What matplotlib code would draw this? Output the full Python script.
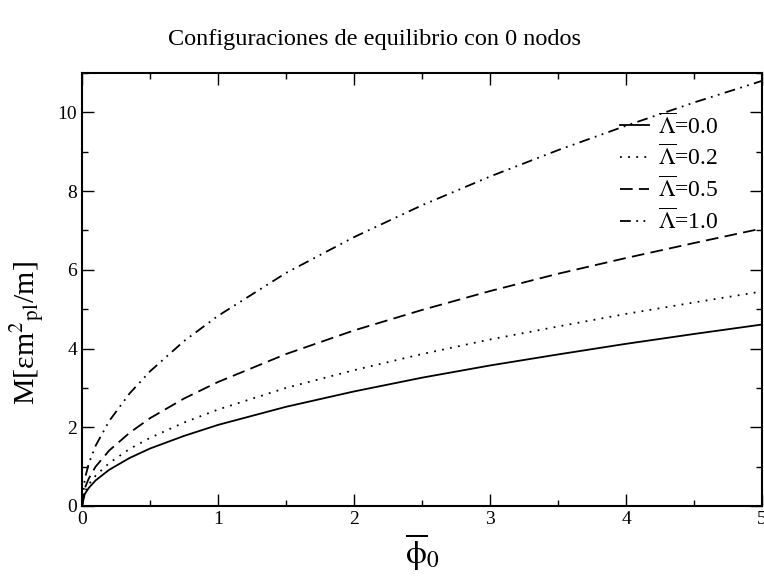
import matplotlib
matplotlib.use('Agg')
import matplotlib.pyplot as plt
from matplotlib.ticker import MultipleLocator

plt.rcParams['font.family'] = ['Liberation Serif', 'DejaVu Serif']
plt.rcParams['mathtext.fontset'] = 'stix'

# campo central phi0 (barra) y masa total para cada Lambda
phi0 = [0, 0.02, 0.05, 0.1, 0.2, 0.35, 0.5, 0.75, 1, 1.5, 2, 2.5, 3, 3.5, 4, 4.5, 5]
m_lam00 = [0, 0.30, 0.46, 0.65, 0.92, 1.22, 1.46, 1.78, 2.06, 2.52, 2.91, 3.26, 3.57, 3.85, 4.12, 4.37, 4.61]
m_lam02 = [0, 0.35, 0.55, 0.77, 1.09, 1.45, 1.73, 2.12, 2.45, 3.00, 3.45, 3.86, 4.23, 4.56, 4.88, 5.17, 5.45]
m_lam05 = [0, 0.45, 0.70, 1.00, 1.41, 1.86, 2.23, 2.73, 3.15, 3.86, 4.46, 4.98, 5.46, 5.90, 6.30, 6.68, 7.05]
m_lam10 = [0, 0.68, 1.08, 1.53, 2.16, 2.86, 3.42, 4.19, 4.83, 5.92, 6.83, 7.64, 8.37, 9.04, 9.66, 10.25, 10.80]
labels = ['0.0', '0.2', '0.5', '1.0']

fig = plt.figure(figsize=(7.64, 5.79), dpi=100)
ax = fig.add_axes([82/764, 1-506/579, 680/764, 433/579])

styles = ['-', (0, (1, 3.5)), (0, (7, 3.5)), (0, (6, 3, 1, 3, 1, 3))]
for m, lab, ls in zip([m_lam00, m_lam02, m_lam05, m_lam10], labels, styles):
    ax.plot(phi0, m, color='k', lw=1.3, ls=ls, label=r'$\overline{\Lambda}$=' + lab)

ax.set_xlim(0, 5)
ax.set_ylim(0, 11)
ax.xaxis.set_major_locator(MultipleLocator(1))
ax.xaxis.set_minor_locator(MultipleLocator(0.5))
ax.yaxis.set_major_locator(MultipleLocator(2))
ax.yaxis.set_minor_locator(MultipleLocator(1))
ax.tick_params(which='both', direction='in', top=True, right=True, width=1, labelsize=14)
ax.tick_params(which='major', length=8.5)
ax.tick_params(which='minor', length=4.5)
for s in ax.spines.values():
    s.set_linewidth(1.5)

ax.set_xlabel(r'$\overline{\mathrm{\phi}}_0$', fontsize=24)
ax.xaxis.set_label_coords(0.5, -0.058, transform=ax.transAxes)
ax.xaxis.label.set_va('top')
ax.set_ylabel(r'M[εm$^2$$_{\rm pl}$/m]', fontsize=21.5)
ax.yaxis.label.set_va('center')
ax.yaxis.set_label_coords(-0.08, 0.40)
fig.text(0.49, 0.922, 'Configuraciones de equilibrio con 0 nodos', ha='center', fontsize=17.5)

ax.legend(loc='upper right', bbox_to_anchor=(0.95, 0.93), frameon=False, fontsize=17,
          handlelength=1.2, handletextpad=0.4, labelspacing=0.25, borderaxespad=0)

fig.savefig('out.png', dpi=100)
